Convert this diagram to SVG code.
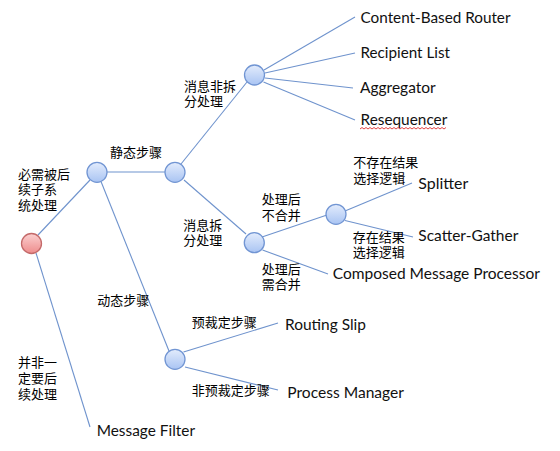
<svg xmlns="http://www.w3.org/2000/svg" width="560" height="451" viewBox="0 0 560 451">
<defs>
<linearGradient id="gb" x1="0" y1="0" x2="0" y2="1"><stop offset="0" stop-color="#e3ecfc"/><stop offset="1" stop-color="#a9c4f3"/></linearGradient>
<linearGradient id="gr" x1="0" y1="0" x2="0" y2="1"><stop offset="0" stop-color="#fbd0d0"/><stop offset="1" stop-color="#ee8c8c"/></linearGradient>
</defs>
<style>
.b{fill:url(#gb);stroke:#7195d3;stroke-width:1.3}
.r{fill:url(#gr);stroke:#c46a6a;stroke-width:1.3}
.c line{stroke:#6f93cd;stroke-width:1.1}
.en{font-family:Lato,"Liberation Sans",sans-serif;font-size:16px;fill:#111}
.zh{font-family:"Noto Sans CJK SC",sans-serif;font-size:13px;fill:#000}
</style>
<rect width="560" height="451" fill="#fff"/>
<g id="connectors" class="c">
<line x1="38" y1="235" x2="90" y2="180"/>
<line x1="36" y1="253" x2="90" y2="427"/>
<line x1="107" y1="172" x2="165" y2="172"/>
<line x1="101" y1="181.5" x2="169" y2="351"/>
<line x1="181" y1="164" x2="247" y2="82"/>
<line x1="184" y1="180" x2="246" y2="234"/>
<line x1="264" y1="70" x2="355" y2="17"/>
<line x1="265" y1="73" x2="355" y2="53"/>
<line x1="265" y1="78" x2="353" y2="88"/>
<line x1="263.5" y1="82" x2="355" y2="120"/>
<line x1="262" y1="237" x2="327" y2="215"/>
<line x1="345" y1="211" x2="412" y2="183"/>
<line x1="345" y1="220.5" x2="413" y2="237"/>
<line x1="262.5" y1="250" x2="328" y2="274"/>
<line x1="183.5" y1="352" x2="278" y2="323"/>
<line x1="185" y1="367" x2="278" y2="390"/>
</g>
<g id="root"><circle class="r" cx="31.5" cy="243.5" r="10"/></g>
<g id="n1"><circle class="b" cx="97" cy="172.3" r="10"/>
<text class="zh" x="18" y="178.5">必需被后<tspan x="18" y="194">续子系</tspan><tspan x="18" y="210">统处理</tspan></text></g>
<g id="n2"><circle class="b" cx="175" cy="172.3" r="10"/>
<text class="zh" x="110" y="157">静态步骤</text></g>
<g id="n3"><circle class="b" cx="254.5" cy="75" r="10"/>
<text class="zh" x="184" y="90.5">消息非拆<tspan x="184" y="106">分处理</tspan></text></g>
<g id="n4"><circle class="b" cx="254.3" cy="242.7" r="10"/>
<text class="zh" x="183.3" y="229.5">消息拆<tspan x="183.3" y="245">分处理</tspan></text></g>
<g id="n5"><circle class="b" cx="336" cy="214.3" r="10"/>
<text class="zh" x="261.7" y="204">处理后<tspan x="261.7" y="219.5">不合并</tspan></text></g>
<g id="n6"><circle class="b" cx="175" cy="359.3" r="10"/>
<text class="zh" x="97.3" y="305">动态步骤</text></g>
<g id="labels">
<text class="zh" x="18" y="367">并非一<tspan x="18" y="383">定要后</tspan><tspan x="18" y="399">续处理</tspan></text>
<text class="zh" x="353.3" y="167">不存在结果<tspan x="353.3" y="182.5">选择逻辑</tspan></text>
<text class="zh" x="352.7" y="242">存在结果<tspan x="352.7" y="257">选择逻辑</tspan></text>
<text class="zh" x="261.7" y="274">处理后<tspan x="261.7" y="289">需合并</tspan></text>
<text class="zh" x="191.7" y="327">预裁定步骤</text>
<text class="zh" x="191.7" y="395">非预裁定步骤</text>
</g>
<g id="targets">
<text class="en" x="360.5" y="23" textLength="150" lengthAdjust="spacingAndGlyphs">Content-Based Router</text>
<text class="en" x="360.5" y="58.3" textLength="89.5" lengthAdjust="spacingAndGlyphs">Recipient List</text>
<text class="en" x="360" y="92.7" textLength="75.7" lengthAdjust="spacingAndGlyphs">Aggregator</text>
<text class="en" x="360.5" y="125" textLength="86.8" lengthAdjust="spacingAndGlyphs">Resequencer</text>
<path d="M360 129 l2 -1.5 l2 1.5 l2 -1.5 l2 1.5 l2 -1.5 l2 1.5 l2 -1.5 l2 1.5 l2 -1.5 l2 1.5 l2 -1.5 l2 1.5 l2 -1.5 l2 1.5 l2 -1.5 l2 1.5 l2 -1.5 l2 1.5 l2 -1.5 l2 1.5 l2 -1.5 l2 1.5 l2 -1.5 l2 1.5 l2 -1.5 l2 1.5 l2 -1.5 l2 1.5 l2 -1.5 l2 1.5 l2 -1.5 l2 1.5 l2 -1.5 l2 1.5 l2 -1.5 l2 1.5 l2 -1.5 l2 1.5 l2 -1.5 l2 1.5 l2 -1.5 l2 1.5 l2 -1.5" fill="none" stroke="#e03030" stroke-width="0.9"/>
<text class="en" x="418.3" y="189.3" textLength="50" lengthAdjust="spacingAndGlyphs">Splitter</text>
<text class="en" x="418.3" y="240.7" textLength="100" lengthAdjust="spacingAndGlyphs">Scatter-Gather</text>
<text class="en" x="332.7" y="279" textLength="207.3" lengthAdjust="spacingAndGlyphs">Composed Message Processor</text>
<text class="en" x="285" y="330" textLength="81" lengthAdjust="spacingAndGlyphs">Routing Slip</text>
<text class="en" x="287.3" y="398.3" textLength="116.7" lengthAdjust="spacingAndGlyphs">Process Manager</text>
<text class="en" x="96.7" y="436" textLength="98.3" lengthAdjust="spacingAndGlyphs">Message Filter</text>
</g>
</svg>
